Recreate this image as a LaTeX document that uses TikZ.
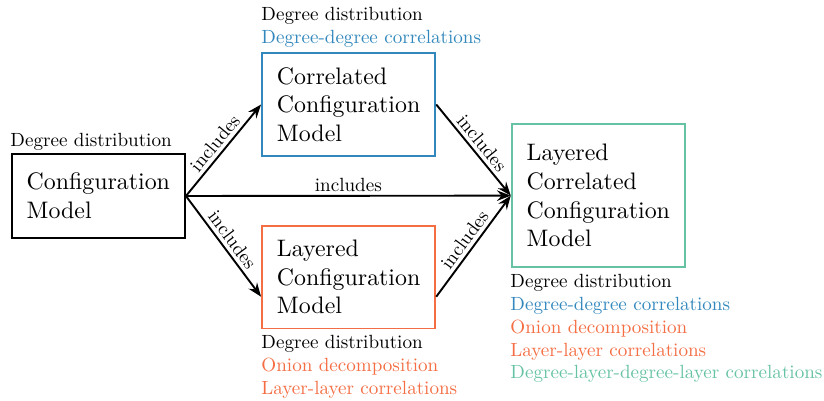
\documentclass[tikz,border=0pt]{standalone}
\usepackage{graphicx}
\usetikzlibrary{arrows.meta}
\definecolor{cblue}{HTML}{3288BD}
\definecolor{corange}{HTML}{F46D43}
\definecolor{cgreen}{HTML}{66C2A5}
\newcommand\mysmall[1]{\scalebox{0.8}{\begin{tabular}[t]{@{}l@{}}#1\end{tabular}}}
\begin{document}
\begin{tikzpicture}[x=0.419pt,y=-0.419pt,
  model/.style={draw, line width=0.8pt, align=left, inner sep=6pt, minimum width=72.6pt},
  info/.style={anchor=base west, inner sep=0pt},
  arr/.style={-{Stealth[length=5.8pt,width=4.4pt,inset=2pt]}, line width=0.8pt},
  lab/.style={inner sep=1.5pt}]
\useasboundingbox (0,0) rectangle (824,401);
\node[model, minimum height=34.9pt] (cm) at (98.35,196) {Configuration\\Model};
\node[model, draw=cblue, minimum height=42.9pt] (ccm) at (348.65,104.5) {Correlated\\Configuration\\Model};
\node[model, draw=corange, minimum height=42.9pt] (lcm) at (348.65,277.15) {Layered\\Configuration\\Model};
\node[model, draw=cgreen, minimum height=60pt] (lccm) at (598.35,195.65) {Layered\\Correlated\\Configuration\\Model};

\node[info] (cminfo) at (10,146.7) {\mysmall{Degree distribution}};
\node[info] (ccminfo) at (261,20.7) {\mysmall{Degree distribution\\\textcolor{cblue}{Degree-degree correlations}}};
\node[info] (lcminfo) at (261,348.3) {\mysmall{Degree distribution\\\textcolor{corange}{Onion decomposition}\\\textcolor{corange}{Layer-layer correlations}}};
\node[info] (lccminfo) at (510,287.3) {\mysmall{Degree distribution\\\textcolor{cblue}{Degree-degree correlations}\\\textcolor{corange}{Onion decomposition}\\\textcolor{corange}{Layer-layer correlations}\\\textcolor{cgreen}{Degree-layer-degree-layer correlations}}};

\draw[arr] (cm.east) -- (ccm.west) node[lab, midway, above, sloped] {\scalebox{0.8}{includes}};
\draw[arr] (cm.east) -- ([yshift=-8.2pt]lcm.west) node[lab, midway, above, sloped] {\scalebox{0.8}{includes}};
\draw[arr] (cm.east) -- (lccm.west) node[lab, midway, above] {\scalebox{0.8}{includes}};
\draw[arr] (ccm.east) -- (lccm.west) node[lab, midway, above, sloped] {\scalebox{0.8}{includes}};
\draw[arr] ([yshift=-8.2pt]lcm.east) -- (lccm.west) node[lab, midway, above, sloped] {\scalebox{0.8}{includes}};
\end{tikzpicture}
\end{document}
